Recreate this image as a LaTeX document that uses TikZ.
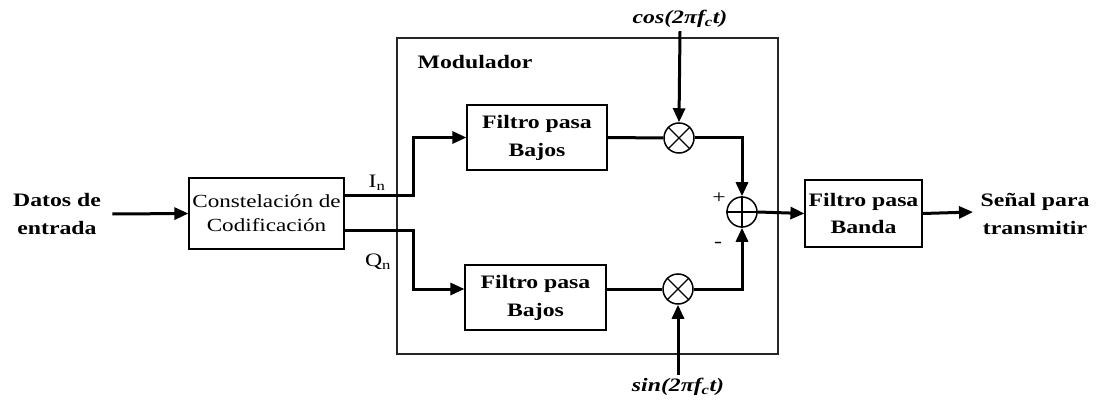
\documentclass[tikz,border=0pt]{standalone}
\usepackage{fontspec}
\setmainfont{Liberation Serif}[FakeStretch=1.25]
\usetikzlibrary{arrows.meta}

\begin{document}
\begin{tikzpicture}[x=1pt, y=-1pt,
  font=\fontsize{19}{27}\selectfont,
  blk/.style={draw, line width=1.2pt, align=center, inner sep=0pt},
  mix/.style={draw, circle, line width=1.5pt, minimum size=30pt, inner sep=0pt},
  sig/.style={line width=3pt},
  arr/.style={sig, -{Triangle[length=14pt,width=12pt]}}]
\useasboundingbox (0,0) rectangle (1102,406);
% modulator frame
\draw[line width=1.5pt, black!85] (397,38) rectangle (778,354);
\node[font=\fontsize{19}{27}\selectfont\bfseries] (modl) at (475,62) {Modulador};
% blocks
\node[align=center, font=\fontsize{19}{28}\selectfont\bfseries] (datos) at (57,214) {Datos de\\entrada};
\node[blk, minimum width=155pt, minimum height=71pt, font=\fontsize{18.5}{24}\selectfont] (const) at (266.5,213.5) {Constelación de\\Codificación};
\node[blk, minimum width=140pt, minimum height=65pt, font=\fontsize{19}{28}\selectfont\bfseries] (filt1) at (537,137.5) {Filtro pasa\\Bajos};
\node[blk, minimum width=141pt, minimum height=65pt, font=\fontsize{19}{28}\selectfont\bfseries] (filt2) at (535.5,297.5) {Filtro pasa\\Bajos};
\node[mix] (mult1) at (679,138) {};
\node[mix] (mult2) at (678,289) {};
\node[mix] (sum) at (742,212) {};
\node[blk, minimum width=117pt, minimum height=67pt, font=\fontsize{19}{28}\selectfont\bfseries] (filtB) at (863.5,213.5) {Filtro pasa\\Banda};
\node[align=center, font=\fontsize{19}{28}\selectfont\bfseries] (senal) at (1035,214) {Señal para\\transmitir};
\node[font=\fontsize{19}{27}\selectfont\bfseries\itshape] (cosl) at (680,19) {cos(2πf\textsubscript{c}t)};
\node[font=\fontsize{19}{27}\selectfont\bfseries\itshape] (sinl) at (678,387) {sin(2πf\textsubscript{c}t)};
% mixer and adder marks
\draw[line width=1.2pt] (mult1.north east) -- (mult1.south west) (mult1.north west) -- (mult1.south east);
\draw[line width=1.2pt] (mult2.north east) -- (mult2.south west) (mult2.north west) -- (mult2.south east);
\draw[line width=1.2pt] (sum.north) -- (sum.south) (sum.west) -- (sum.east);
\node (plus) at (719,198) {+};
\node (minus) at (718,245) {-};
\node (il) at (377,183) {I\textsubscript{n}};
\node (ql) at (378,262) {Q\textsubscript{n}};
% connections
\coordinate (iout) at (const.east |- 0,195);
\coordinate (qout) at (const.east |- 0,230);
\coordinate (outend) at (973,212);
\draw[arr] (datos.east) ++(8,0) -- (const.west);
\draw[arr] (iout) -- ++(69,0) |- (filt1.west);
\draw[arr] (qout) -- ++(69,0) |- (filt2.west |- mult2);
\draw[sig] (filt1.east) -- (mult1.west);
\draw[sig] (filt2.east |- mult2) -- (mult2.west);
\draw[arr] (cosl.south) -- (mult1.north);
\draw[arr] (sinl.north) -- (mult2.south);
\draw[arr] (mult1.east) -| (sum.north);
\draw[arr] (mult2.east) -| (sum.south);
\draw[arr] (sum.east) -- (filtB.west);
\draw[arr] (filtB.east) -- (outend);
\end{tikzpicture}
\end{document}
